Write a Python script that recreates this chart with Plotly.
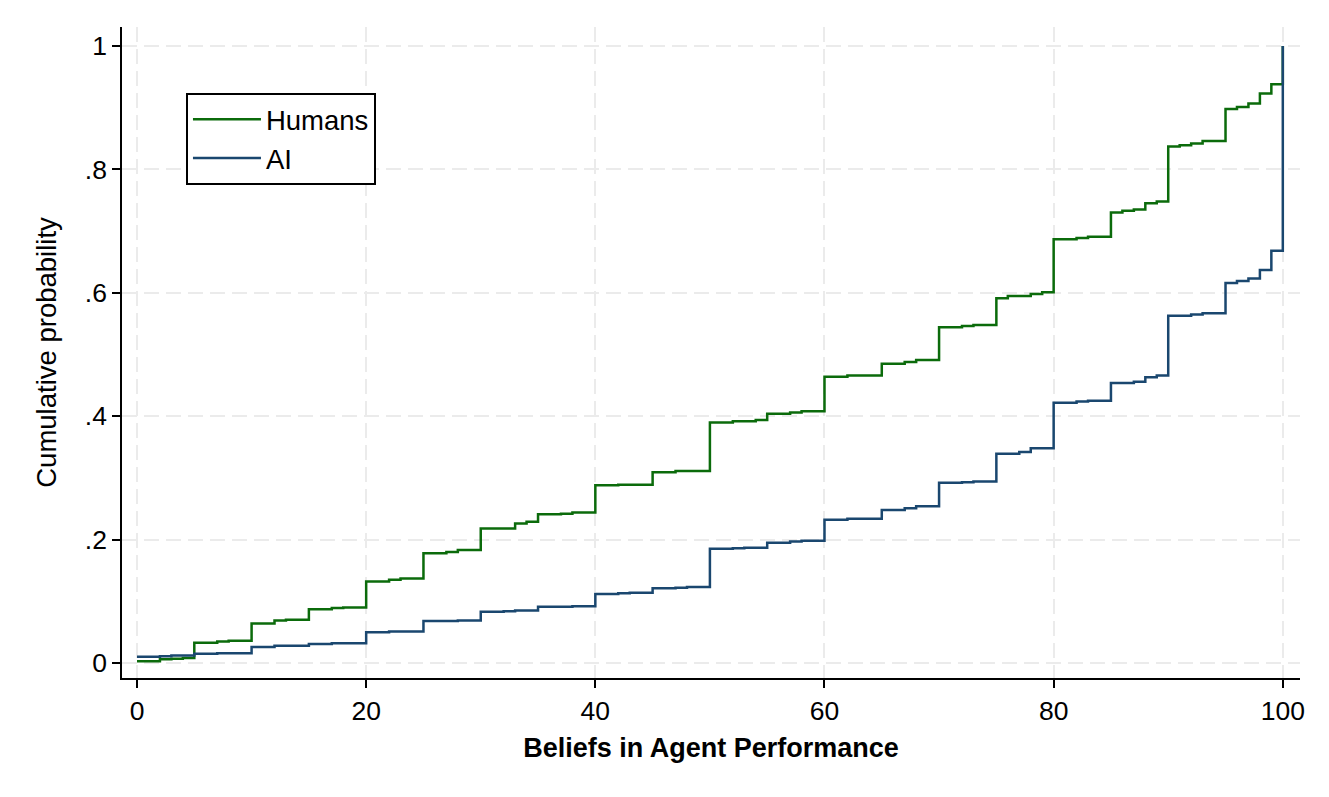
import plotly.graph_objects as go

# Step points (value, cumulative probability after that value)
humans_x = [0, 2, 3, 4, 5, 7, 8, 10, 12, 13, 15, 17, 18, 20, 22, 23, 25, 27, 28, 30,
            33, 34, 35, 37, 38, 40, 42, 45, 47, 50, 52, 54, 55, 57, 58, 60, 62, 65, 67,
            68, 70, 72, 73, 75, 76, 78, 79, 80, 82, 83, 85, 86, 87, 88, 89, 90, 91, 92,
            93, 95, 96, 97, 98, 99, 100]
humans_y = [0.003, 0.006, 0.007, 0.008, 0.033, 0.035, 0.036, 0.064, 0.069, 0.070, 0.087,
            0.089, 0.090, 0.132, 0.135, 0.137, 0.178, 0.180, 0.183, 0.218, 0.226, 0.229,
            0.241, 0.242, 0.244, 0.288, 0.289, 0.309, 0.311, 0.390, 0.392, 0.394, 0.404,
            0.406, 0.408, 0.464, 0.466, 0.485, 0.488, 0.491, 0.544, 0.546, 0.548, 0.591,
            0.595, 0.598, 0.601, 0.687, 0.689, 0.691, 0.730, 0.733, 0.735, 0.745, 0.748,
            0.837, 0.839, 0.842, 0.846, 0.898, 0.901, 0.907, 0.923, 0.938, 1.0]

ai_x = [0, 2, 3, 5, 7, 10, 12, 15, 17, 20, 22, 25, 28, 30, 32, 33, 35, 38, 40, 42, 43,
        45, 47, 48, 50, 52, 53, 55, 57, 58, 60, 62, 65, 67, 68, 70, 72, 73, 75, 77, 78,
        80, 82, 83, 85, 87, 88, 89, 90, 92, 93, 95, 96, 97, 98, 99, 100]
ai_y = [0.010, 0.011, 0.012, 0.015, 0.016, 0.026, 0.028, 0.031, 0.032, 0.050, 0.051,
        0.068, 0.069, 0.083, 0.084, 0.085, 0.091, 0.092, 0.112, 0.113, 0.114, 0.121,
        0.122, 0.123, 0.185, 0.186, 0.187, 0.195, 0.197, 0.198, 0.232, 0.234, 0.248,
        0.251, 0.254, 0.292, 0.293, 0.294, 0.339, 0.342, 0.348, 0.422, 0.424, 0.425,
        0.454, 0.456, 0.463, 0.466, 0.563, 0.565, 0.567, 0.616, 0.619, 0.623, 0.637,
        0.668, 1.0]

x_ticks = [0, 20, 40, 60, 80, 100]
y_ticks = [0, 0.2, 0.4, 0.6, 0.8, 1.0]
y_ticktext = ["0", ".2", ".4", ".6", ".8", "1"]

FONT = "Liberation Sans, Arial, Helvetica, sans-serif"
GRID_DASH = "15px,7px"

fig = go.Figure()
fig.add_trace(go.Scatter(x=humans_x, y=humans_y, mode="lines", name="Humans",
                         line=dict(color="#0b6b0b", width=2.5, shape="hv")))
fig.add_trace(go.Scatter(x=ai_x, y=ai_y, mode="lines", name="AI",
                         line=dict(color="#1a476f", width=2.5, shape="hv")))

fig.update_layout(
    width=1321, height=789,
    margin=dict(l=114, r=29, t=19, b=119),
    paper_bgcolor="white", plot_bgcolor="white",
    font=dict(family=FONT, size=26, color="black"),
    showlegend=True,
    legend=dict(x=0.0543, y=0.899, xanchor="left", yanchor="top",
                bordercolor="black", borderwidth=2, bgcolor="white",
                font=dict(size=27.5), itemwidth=68, tracegroupgap=0),
    xaxis=dict(range=[-1.31, 101.5], tickvals=x_ticks, ticks="outside", ticklen=8,
               tickwidth=1.5, tickcolor="black", showline=True, linecolor="black",
               linewidth=1.5, showgrid=True, gridcolor="#ebebeb", gridwidth=2,
               griddash=GRID_DASH, zeroline=False,
               tickfont=dict(size=26.5),
               title=dict(text="<b>Beliefs in Agent Performance</b>",
                          font=dict(size=27), standoff=14)),
    yaxis=dict(range=[-0.0243, 1.0308], tickvals=y_ticks, ticktext=y_ticktext,
               ticks="outside", ticklen=8, tickwidth=1.5, tickcolor="black",
               showline=True, linecolor="black", linewidth=1.5, showgrid=True,
               gridcolor="#ebebeb", gridwidth=2, griddash=GRID_DASH, zeroline=False,
               tickfont=dict(size=26.5),
               title=dict(text="Cumulative probability", font=dict(size=27.5), standoff=20)),
)

fig.write_html("out.html")
